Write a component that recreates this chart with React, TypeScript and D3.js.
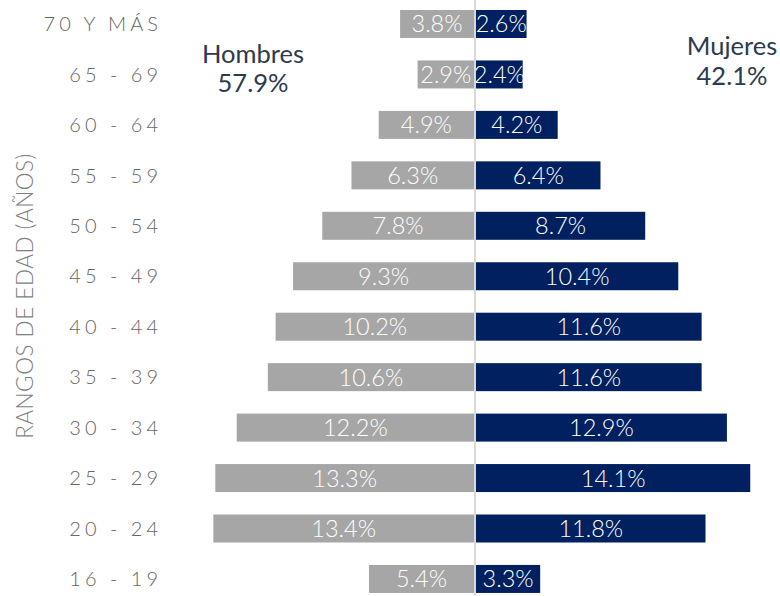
import React from "react";
import * as d3 from "d3";

const categories = ["70 Y MÁS", "65 - 69", "60 - 64", "55 - 59", "50 - 54", "45 - 49", "40 - 44", "35 - 39", "30 - 34", "25 - 29", "20 - 24", "16 - 19"];
const hombres = [3.8, 2.9, 4.9, 6.3, 7.8, 9.3, 10.2, 10.6, 12.2, 13.3, 13.4, 5.4];
const mujeres = [2.6, 2.4, 4.2, 6.4, 8.7, 10.4, 11.6, 11.6, 12.9, 14.1, 11.8, 3.3];
const totalHombres = "57.9%";
const totalMujeres = "42.1%";

const W = 780;
const H = 596;
const XC = 475;
const GRAY = "#a6a6a6";
const NAVY = "#002060";

export default function App() {
  const y = d3.scaleBand<string>().domain(categories).range([-12.45, 615.4]).padding(0.445);
  const x = d3.scaleLinear().domain([0, 14.5]).range([0, 14.5 * 19.45]);
  const bh = y.bandwidth();
  const font = "Lato, 'Noto Sans', sans-serif";
  return (
    <svg width={W} height={H} style={{ position: "absolute", left: 0, top: 0, display: "block" }} fontFamily={font}>
      <rect x={0} y={0} width={W} height={H} fill="#fff" />
      {categories.map((c, i) => {
        const y0 = y(c)!;
        const wm = x(hombres[i]);
        const ww = x(mujeres[i]);
        const cy = y0 + bh / 2;
        return (
          <g key={c}>
            <rect x={XC - 1 - wm} y={y0} width={wm} height={bh} fill={GRAY} />
            <rect x={XC + 1} y={y0} width={ww} height={bh} fill={NAVY} />
            <text x={XC - 1 - wm / 2} y={cy} dy="0.36em" textAnchor="middle" fill="#fff" fontSize={23.5} fontWeight={300}>
              {hombres[i].toFixed(1)}%
            </text>
            <text x={XC + 1 + ww / 2} y={cy} dy="0.36em" textAnchor="middle" fill="#fff" fontSize={23.5} fontWeight={300}>
              {mujeres[i].toFixed(1)}%
            </text>
            <text x={162} y={cy} dy="0.36em" textAnchor="end" fill="#666666" fontSize={20} letterSpacing={4} fontWeight={300}>
              {c}
            </text>
          </g>
        );
      })}
      <line x1={XC} x2={XC} y1={0} y2={H} stroke="#d9d9d9" strokeWidth={2} />
      <text transform={`translate(33,296) rotate(-90)`} textAnchor="middle" fill="#7f7f7f" fontSize={22.5} letterSpacing={0.5} fontWeight={300}>
        RANGOS DE EDAD (AÑOS)
      </text>
      <text x={253} y={63} textAnchor="middle" fill="#2e3a4d" fontSize={25.5}>Hombres</text>
      <text x={253} y={92} textAnchor="middle" fill="#2e3a4d" fontSize={25.5}>{totalHombres}</text>
      <text x={732} y={55} textAnchor="middle" fill="#2e3a4d" fontSize={25.5}>Mujeres</text>
      <text x={732} y={85} textAnchor="middle" fill="#2e3a4d" fontSize={25.5}>{totalMujeres}</text>
    </svg>
  );
}
